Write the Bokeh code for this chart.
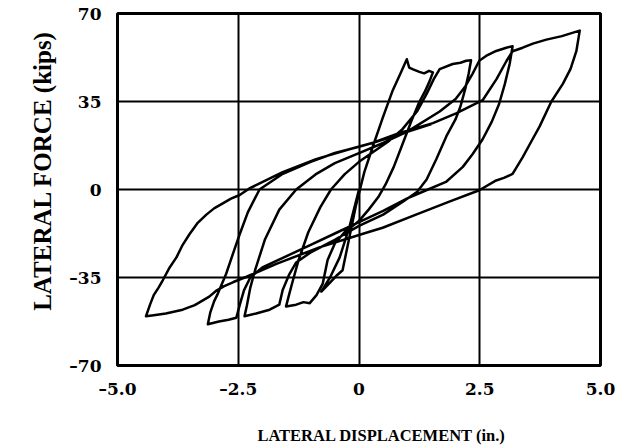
from bokeh.plotting import figure
from bokeh.models import Range1d, FixedTicker
from bokeh.embed import file_html
from bokeh.resources import INLINE

# ---- tick values / labels ----
x_ticks = [-5.0, -2.5, 0.0, 2.5, 5.0]
x_tick_labels = ["\u20135.0", "\u20132.5", "0", "2.5", "5.0"]
y_ticks = [-70, -35, 0, 35, 70]
y_tick_labels = ["\u201370", "\u201335", "0", "35", "70"]
x_title = "LATERAL DISPLACEMENT (in.)"
y_title = "LATERAL FORCE (kips)"

# ---- hysteresis record, half-cycle by half-cycle ----
# (displacement in inches, lateral force in kips)
hc0_d = [0.0, -0.2, -0.4, -0.6, -0.78]
hc0_f = [0.0, -15.0, -27.0, -35.0, -40.6]

hc1_d = [-0.78, -0.6, -0.45, -0.34, -0.2, -0.06, 0.11, 0.29, 0.5, 0.7, 0.87, 0.99,
         1.04, 1.12, 1.25, 1.35, 1.45, 1.53]
hc1_f = [-40.6, -37.0, -34.0, -32.1, -19.1, -6.1, 6.9, 17.3, 29.0, 39.5, 46.6, 51.8,
         48.5, 47.8, 46.8, 46.2, 47.2, 46.6]

hc2_d = [1.53, 1.46, 1.36, 1.25, 1.08, 0.9, 0.72, 0.55, 0.4, 0.2, 0.0, -0.3, -0.5,
         -0.65, -0.75, -0.88, -1.02, -1.15, -1.3, -1.51]
hc2_f = [46.6, 43.0, 38.8, 34.9, 27.0, 18.0, 9.0, 2.0, -3.0, -8.0, -12.5, -17.0, -21.5,
         -28.0, -37.4, -42.0, -45.2, -44.8, -45.8, -46.5]

hc3_d = [-1.51, -1.45, -1.38, -1.25, -1.05, -0.8, -0.58, -0.3, 0.0, 0.3, 0.6, 0.9, 1.2,
         1.4, 1.55, 1.67, 1.94, 2.1, 2.22, 2.32]
hc3_f = [-46.5, -42.0, -37.0, -28.0, -17.0, -7.0, 0.0, 6.0, 11.0, 15.0, 19.0, 24.0,
         31.0, 38.0, 44.0, 47.9, 49.9, 50.4, 51.2, 51.4]

hc4_d = [2.32, 2.27, 2.2, 2.1, 2.0, 1.81, 1.6, 1.4, 1.2, 0.9, 0.5, 0.0, -0.5, -1.0,
         -1.3, -1.45, -1.58, -1.65, -1.85, -2.13, -2.37]
hc4_f = [51.4, 46.0, 40.0, 33.0, 28.0, 21.2, 12.0, 4.0, -1.0, -5.0, -10.0, -14.5,
         -20.0, -25.0, -29.0, -34.0, -40.0, -45.8, -47.8, -49.3, -50.4]

hc5_d = [-2.37, -2.32, -2.25, -2.15, -1.95, -1.65, -1.3, -0.9, -0.5, 0.0, 0.5, 1.0,
         1.67, 2.0, 2.2, 2.35, 2.49, 2.63, 2.84, 3.05, 3.18]
hc5_f = [-50.4, -46.0, -39.0, -32.0, -20.0, -8.0, 0.0, 6.0, 10.5, 14.5, 18.5, 23.0,
         31.0, 36.0, 41.0, 46.0, 51.2, 53.1, 55.1, 56.4, 57.0]

hc6_d = [3.18, 3.12, 3.02, 2.9, 2.75, 2.56, 2.35, 2.15, 1.8, 1.32, 1.0, 0.5, 0.0,
         -0.5, -1.0, -1.5, -2.0, -2.25, -2.38, -2.47, -2.54, -2.7, -2.9, -3.13]
hc6_f = [57.0, 50.0, 42.0, 34.0, 27.0, 20.0, 14.0, 9.0, 3.0, -0.9, -3.5, -8.5,
         -13.0, -17.5, -22.0, -26.5, -31.0, -35.0, -40.0, -46.0, -51.0, -51.8,
         -52.5, -53.6]

hc7_d = [-3.13, -3.08, -3.0, -2.92, -2.75, -2.6, -2.47, -2.3, -2.06, -1.6, -1.0, -0.5,
         0.0, 0.29, 0.84, 1.53, 2.01, 2.56, 2.85, 3.05, 3.18, 3.39, 3.6, 3.88, 4.2,
         4.45, 4.57]
hc7_f = [-53.6, -49.0, -44.5, -41.3, -33.5, -25.0, -17.8, -9.0, 0.0, 6.0, 11.0, 14.5,
         17.0, 18.6, 22.5, 26.4, 30.3, 35.5, 44.0, 51.0, 55.0, 56.4, 58.0, 59.6, 61.0,
         62.5, 63.2]

hc8_d = [4.57, 4.5, 4.38, 4.22, 3.98, 3.74, 3.55, 3.39, 3.18, 3.0, 2.84, 2.49, 1.87,
         1.18, 0.49, 0.15, -0.82, -1.71, -2.34, -2.6, -2.8, -2.95, -3.1, -3.4, -3.65,
         -4.0, -4.25, -4.41]
hc8_f = [63.2, 55.0, 48.0, 42.0, 34.9, 25.1, 18.5, 12.9, 6.2, 4.6, 3.6, -0.3, -4.8,
         -10.0, -15.2, -17.2, -23.0, -29.6, -34.8, -36.8, -38.5, -40.2, -42.6, -46.0,
         -47.8, -49.3, -50.0, -50.4]

hc9_d = [-4.41, -4.33, -4.25, -4.15, -4.06, -3.92, -3.78, -3.65, -3.51, -3.35, -3.16,
         -3.0, -2.82, -2.65, -2.47, -2.27, -1.58, -0.89, -0.2, 0.29, 0.84, 1.5]
hc9_f = [-50.4, -46.0, -42.0, -39.0, -36.0, -31.0, -27.0, -22.0, -17.8, -13.5, -10.0,
         -7.5, -5.5, -3.6, -2.2, 0.4, 6.9, 12.1, 16.0, 18.6, 22.0, 26.0]

segments = [(hc0_d, hc0_f), (hc1_d, hc1_f), (hc2_d, hc2_f), (hc3_d, hc3_f),
            (hc4_d, hc4_f), (hc5_d, hc5_f), (hc6_d, hc6_f), (hc7_d, hc7_f),
            (hc8_d, hc8_f), (hc9_d, hc9_f)]

disp = []
force = []
for d, f in segments:
    disp.extend(d)
    force.extend(f)

p = figure(width=631, height=447, output_backend="svg", toolbar_location=None,
           x_range=Range1d(-5, 5), y_range=Range1d(-70, 70),
           min_border_left=117, min_border_right=31, min_border_top=13,
           min_border_bottom=76)
p.background_fill_color = "white"
p.border_fill_color = "white"
p.outline_line_color = "black"
p.outline_line_width = 3

p.line(disp, force, line_color="black", line_width=2.5, line_join="round")

for ax, ticks, labels in ((p.xaxis[0], x_ticks, x_tick_labels),
                          (p.yaxis[0], y_ticks, y_tick_labels)):
    ax.ticker = FixedTicker(ticks=ticks)
    ax.major_label_overrides = {t: l for t, l in zip(ticks, labels)}
    ax.axis_line_color = None
    ax.major_tick_line_color = None
    ax.minor_tick_line_color = None
    ax.major_tick_out = 0
    ax.major_tick_in = 0
    ax.major_label_text_font = "DejaVu Serif"
    ax.major_label_text_font_style = "bold"
    ax.major_label_text_font_size = "17px"
    ax.major_label_text_color = "black"
    ax.axis_label_text_font = "Liberation Serif"
    ax.axis_label_text_font_style = "bold"
    ax.axis_label_text_color = "black"

# the printed titles sit off-centre; non-breaking padding reproduces that offset
p.xaxis.axis_label = "\u00a0" * 11 + x_title
p.xaxis.axis_label_text_font_size = "16.5px"
p.xaxis.major_label_standoff = 13
p.xaxis.axis_label_standoff = 24

p.yaxis.axis_label = "\u00a0" * 6 + y_title
p.yaxis.axis_label_text_font_size = "25px"
p.yaxis.major_label_standoff = 16
p.yaxis.axis_label_standoff = 10

for g in (p.xgrid[0], p.ygrid[0]):
    g.grid_line_color = "black"
    g.grid_line_width = 2
    g.grid_line_alpha = 1.0
p.xgrid.ticker = FixedTicker(ticks=x_ticks)
p.ygrid.ticker = FixedTicker(ticks=y_ticks)

open("out.html", "w").write(file_html(p, INLINE))
